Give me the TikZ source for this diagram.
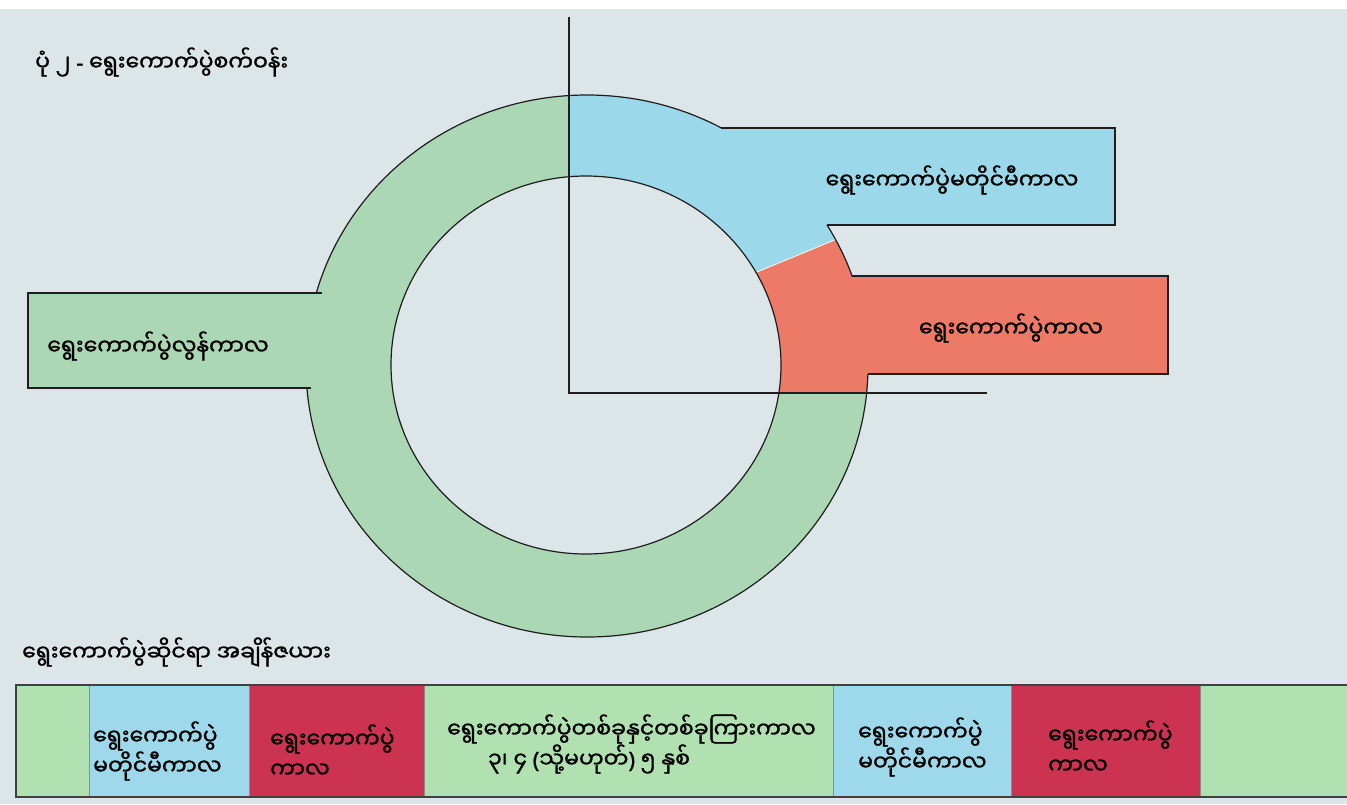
\documentclass[tikz,border=0pt]{standalone}
\usepackage{fontspec}
\newfontfamily\my[Script=Myanmar, FakeBold=1.2]{Noto Sans Myanmar UI}
\newfontfamily\latfont[FakeBold=1.2]{Noto Sans}
\newcommand{\pl}[1]{{\latfont #1}}
\definecolor{bgc}{HTML}{DCE6E9}
\definecolor{ringg}{HTML}{ABD7B4}
\definecolor{ringb}{HTML}{9BD8E9}
\definecolor{ringr}{HTML}{EC7A67}
\definecolor{barg}{HTML}{B1E1B1}
\definecolor{barb}{HTML}{9DD9EA}
\definecolor{barr}{HTML}{CB3350}
\definecolor{edge}{HTML}{1E1E1E}
\tikzset{
  lbl/.style={font=\my\fontsize{22}{30}\selectfont, inner sep=0pt, text=black},
  outl/.style={draw=edge, line width=1.2pt},
  barline/.style={draw=black!75, line width=2pt},
  sepline/.style={draw=black!45, line width=0.8pt}
}
\begin{document}
\begin{tikzpicture}[x=1pt,y=-1pt]
\useasboundingbox (0,0) rectangle (1347,804);
\fill[white] (0,0) rectangle (1347,804);
\fill[bgc] (0,9) rectangle (1347,804);
% ring
\fill[ringg, even odd rule] (587,366) ellipse [x radius=281, y radius=271] (586,365) ellipse [x radius=195, y radius=189];
\begin{scope}
  \clip (569,0) -- (1000,0) -- (1000,171.8) -- (569,349.6) -- cycle;
  \fill[ringb, even odd rule] (587,366) ellipse [x radius=281, y radius=271] (586,365) ellipse [x radius=195, y radius=189];
\end{scope}
\begin{scope}
  \clip (569,349.6) -- (1000,171.8) -- (1000,393) -- (569,393) -- cycle;
  \fill[ringr, even odd rule] (587,366) ellipse [x radius=281, y radius=271] (586,365) ellipse [x radius=195, y radius=189];
\end{scope}
\draw[white, line width=0.8pt] (757,272) -- (837,239);
\draw[outl] (587,366) ellipse [x radius=281, y radius=271];
\draw[outl] (586,365) ellipse [x radius=195, y radius=189];
% boxes
\fill[ringb] (722,128.6) rectangle (1115,225);
\fill[ringr] (852,276.6) rectangle (1168,374);
\fill[ringg] (28,293) rectangle (322,387.4);
\coordinate (bA) at (721,128); \coordinate (bB) at (1115,128);
\coordinate (bC) at (1115,225); \coordinate (bD) at (827,225);
\draw[outl] (bA) -- (bB) -- (bC) -- (bD);
\coordinate (rA) at (852,276); \coordinate (rB) at (1168,276);
\coordinate (rC) at (1168,374); \coordinate (rD) at (868,374);
\draw[outl] (rA) -- (rB) -- (rC) -- (rD);
\coordinate (gA) at (322,293); \coordinate (gB) at (28,293);
\coordinate (gC) at (28,388); \coordinate (gD) at (311,388);
\draw[outl] (gA) -- (gB) -- (gC) -- (gD);
% axes
\coordinate (vtop) at (569,17); \coordinate (orig) at (569,393); \coordinate (hend) at (987,393);
\draw[outl] (vtop) -- (orig) -- (hend);
% labels
\node[lbl, anchor=west] (title) at (35,62) {ပုံ ၂ \pl{-} ရွေးကောက်ပွဲစက်ဝန်း};
\node[lbl] (lblue) at (952,180) {ရွေးကောက်ပွဲမတိုင်မီကာလ};
\node[lbl] (lred) at (1011,328) {ရွေးကောက်ပွဲကာလ};
\node[lbl] (lgreen) at (158,346) {ရွေးကောက်ပွဲလွန်ကာလ};
\node[lbl, anchor=west] (tblhead) at (22,652) {ရွေးကောက်ပွဲဆိုင်ရာ အချိန်ဇယား};
% timeline bar
\fill[barg] (16,685) rectangle (89,797);
\fill[barb] (89,685) rectangle (249,797);
\fill[barr] (249,685) rectangle (424,797);
\fill[barg] (424,685) rectangle (833,797);
\fill[barb] (833,685) rectangle (1011,797);
\fill[barr] (1011,685) rectangle (1200,797);
\fill[barg] (1200,685) rectangle (1347,797);
\foreach \xx in {89,249,424,833,1011,1200} \draw[sepline] (\xx,685) -- (\xx,797);
\draw[barline] (1347,685) -- (16,685) -- (16,797) -- (1347,797);
\node[lbl, anchor=west, align=left] (c1) at (93,751) {ရွေးကောက်ပွဲ\\မတိုင်မီကာလ};
\node[lbl, anchor=west, align=left] (c2) at (270,751) {ရွေးကောက်ပွဲ\\ကာလ};
\node[lbl, anchor=west, align=left] (c3) at (447,744) {ရွေးကောက်ပွဲတစ်ခုနှင့်တစ်ခုကြားကာလ\\\hspace*{41pt}၃၊ ၄ \pl{(}သို့မဟုတ်\pl{)} ၅ နှစ်};
\node[lbl, anchor=west, align=left] (c4) at (858,747) {ရွေးကောက်ပွဲ\\မတိုင်မီကာလ};
\node[lbl, anchor=west, align=left] (c5) at (1048,747) {ရွေးကောက်ပွဲ\\ကာလ};
\end{tikzpicture}
\end{document}
